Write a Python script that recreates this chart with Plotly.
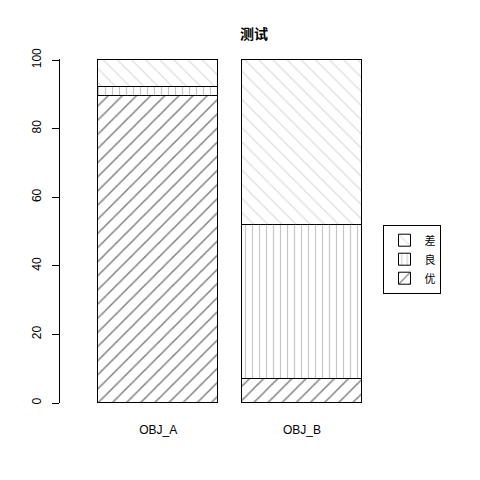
import plotly.graph_objects as go

categories = ["OBJ_A", "OBJ_B"]
x_pos = [0.7, 1.9]
series_names = ["优", "良", "差"]
v_you = [89.5, 7.0]
v_liang = [2.7, 45.0]
v_cha = [7.8, 48.0]
y_ticks = [0, 20, 40, 60, 80, 100]

values = [v_you, v_liang, v_cha]
patterns = [
    dict(shape="/", size=10, solidity=0.15, fgcolor="#000000", bgcolor="white"),
    dict(shape="|", size=7, solidity=0.17, fgcolor="#8c8c8c", bgcolor="white"),
    dict(shape="\\", size=10, solidity=0.13, fgcolor="#bdbdbd", bgcolor="white"),
]

fig = go.Figure()
for name, vals, pat in zip(series_names, values, patterns):
    fig.add_trace(go.Bar(
        x=x_pos, y=vals, name=name, width=1.0, cliponaxis=False,
        marker=dict(color="white", line=dict(color="black", width=1), pattern=pat),
    ))

font = "Liberation Sans, Arial, Noto Sans CJK SC"
fig.update_layout(
    width=480, height=480,
    barmode="stack",
    plot_bgcolor="white", paper_bgcolor="white",
    margin=dict(l=60, r=32, t=59, b=77),
    font=dict(family=font, size=12, color="black"),
    title=dict(text="<b>测试</b>", x=0.5, xref="paper", xanchor="center",
               y=1 - 34 / 480, yref="container", yanchor="middle",
               font=dict(family="Noto Sans CJK SC, Liberation Sans", size=14)),
    xaxis=dict(range=[-0.12, 3.12], tickvals=x_pos, ticktext=categories,
               showline=False, showgrid=False, zeroline=False, ticks="",
               ticklabelstandoff=18, tickfont=dict(size=12)),
    yaxis=dict(range=[0, 100.3], tickvals=y_ticks, showline=True, linecolor="black",
               linewidth=1, ticks="outside", ticklen=7, tickcolor="black",
               tickwidth=1, showgrid=False, zeroline=False, tickangle=-90,
               ticklabelstandoff=6, tickfont=dict(size=12)),
    legend=dict(x=0.9085, y=0.418, xanchor="center", yanchor="middle",
                bordercolor="black", borderwidth=1, bgcolor="white",
                traceorder="reversed", itemwidth=30,
                font=dict(family="Noto Sans CJK SC, Liberation Sans", size=11)),
    bargap=0,
)

fig.write_html("out.html")
